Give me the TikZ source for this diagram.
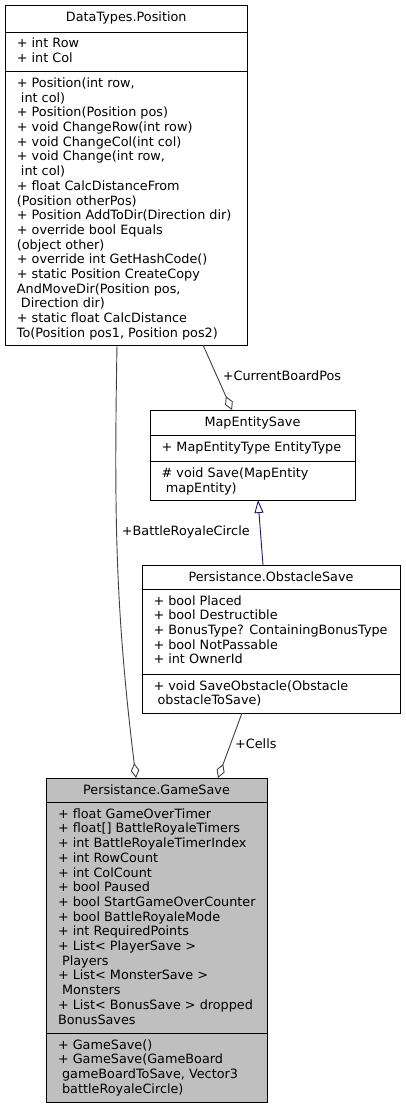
\documentclass[tikz,border=0pt]{standalone}
\usepackage{fontspec}
\setmainfont{DejaVu Sans}
\usetikzlibrary{%
        arrows.meta
    }
\definecolor{edgegray}{RGB}{64, 64, 64}
\definecolor{navy}{RGB}{25, 25, 112}
\definecolor{focusgray}{RGB}{191, 191, 191}
\newcommand{\umlfont}{\fontsize{12.8}{14.7}\selectfont}
\newcommand{\indsp}{\hspace*{0.32em}}
\tikzset{%
    classbox/.style={%
        draw=black, line width=0.9pt, anchor=north west,
        inner sep=0pt, outer sep=0pt
    },
    sepline/.style={draw=black, line width=0.9pt},
    classtitle/.style={anchor=base, inner sep=0pt, font=\umlfont},
    members/.style={%
        anchor=north west, inner sep=0pt, align=left, font=\umlfont
    },
    role/.style={anchor=base west, inner sep=0pt, font=\umlfont},
    aggregation/.style={%
        edgegray, line width=0.9pt,
        -{Diamond[open, length=15pt, width=8.5pt]}
    },
    inherit/.style={%
        navy, line width=0.9pt,
        -{Triangle[open, length=13pt, width=9pt]}
    }
}

\begin{document}
\begin{tikzpicture}[x=1pt, y=-1pt]

    \useasboundingbox (0, 0) rectangle (406, 1109);

    % DataTypes.Position
    \node[classbox, minimum width=241.5, minimum height=339.5] (position) at (5.5, 5.5) {};
    \node[classtitle] (position-title) at ([yshift=-16]position.north) {DataTypes.Position};
    \draw[sepline] ([yshift=-26.5]position.north west) -- ([yshift=-26.5]position.north east);
    \draw[sepline] ([yshift=-65.5]position.north west) -- ([yshift=-65.5]position.north east);
    \node[members] (position-attrs) at ([xshift=11.2, yshift=-31.6]position.north west)
        {\strut + int Row\\+ int Col};
    \node[members] (position-ops) at ([xshift=11.2, yshift=-71.5]position.north west)
        {\strut + Position(int row,\\
         \indsp int col)\\
         + Position(Position pos)\\
         + void ChangeRow(int row)\\
         + void ChangeCol(int col)\\
         + void Change(int row,\\
         \indsp int col)\\
         + float CalcDistanceFrom\\
         (Position otherPos)\\
         + Position AddToDir(Direction dir)\\
         + override bool Equals\\
         (object other)\\
         + override int GetHashCode()\\
         + static Position CreateCopy\\
         AndMoveDir(Position pos,\\
         \indsp Direction dir)\\
         + static float CalcDistance\\
         To(Position pos1, Position pos2)};

    % MapEntitySave
    \node[classbox, minimum width=205, minimum height=90] (mapentity) at (150, 410) {};
    \node[classtitle] (mapentity-title) at ([yshift=-16.3]mapentity.north) {MapEntitySave};
    \draw[sepline] ([yshift=-25]mapentity.north west) -- ([yshift=-25]mapentity.north east);
    \draw[sepline] ([yshift=-51]mapentity.north west) -- ([yshift=-51]mapentity.north east);
    \node[members] (mapentity-attrs) at ([xshift=11.5, yshift=-31.2]mapentity.north west)
        {\strut + MapEntityType EntityType};
    \node[members] (mapentity-ops) at ([xshift=11.5, yshift=-57.3]mapentity.north west)
        {\strut \# void Save(MapEntity\\
         \indsp mapEntity)};

    % Persistance.ObstacleSave
    \node[classbox, minimum width=258, minimum height=148] (obstacle) at (142, 565) {};
    \node[classtitle] (obstacle-title) at ([yshift=-16.3]obstacle.north) {Persistance.ObstacleSave};
    \draw[sepline] ([yshift=-24]obstacle.north west) -- ([yshift=-24]obstacle.north east);
    \draw[sepline] ([yshift=-109]obstacle.north west) -- ([yshift=-109]obstacle.north east);
    \node[members] (obstacle-attrs) at ([xshift=11.3, yshift=-29.7]obstacle.north west)
        {\strut + bool Placed\\
         + bool Destructible\\
         + BonusType? ContainingBonusType\\
         + bool NotPassable\\
         + int OwnerId};
    \node[members] (obstacle-ops) at ([xshift=11.3, yshift=-114.7]obstacle.north west)
        {\strut + void SaveObstacle(Obstacle\\
         \indsp obstacleToSave)};

    % Persistance.GameSave
    \node[classbox, fill=focusgray, minimum width=221, minimum height=324] (gamesave) at (46, 778) {};
    \node[classtitle] (gamesave-title) at ([yshift=-16]gamesave.north) {Persistance.GameSave};
    \draw[sepline] ([yshift=-24]gamesave.north west) -- ([yshift=-24]gamesave.north east);
    \draw[sepline] ([yshift=-255]gamesave.north west) -- ([yshift=-255]gamesave.north east);
    \node[members] (gamesave-attrs) at ([xshift=11.8, yshift=-29.7]gamesave.north west)
        {\strut + float GameOverTimer\\
         + float[] BattleRoyaleTimers\\
         + int BattleRoyaleTimerIndex\\
         + int RowCount\\
         + int ColCount\\
         + bool Paused\\
         + bool StartGameOverCounter\\
         + bool BattleRoyaleMode\\
         + int RequiredPoints\\
         + List< PlayerSave >\\
         \indsp Players\\
         + List< MonsterSave >\\
         \indsp Monsters\\
         + List< BonusSave > dropped\\
         BonusSaves};
    \node[members] (gamesave-ops) at ([xshift=11.8, yshift=-260.7]gamesave.north west)
        {\strut + GameSave()\\
         + GameSave(GameBoard\\
         \indsp gameBoardToSave, Vector3\\
         \indsp battleRoyaleCircle)};

    % Connectors
    \draw[aggregation]
        ([xshift=111.5]position.south west)
        to [out=-91, in=97]
        ([xshift=90]gamesave.north west);
    \node[role] (battle-role) at (121.7, 535) {+BattleRoyaleCircle};

    \draw[aggregation]
        ([xshift=197.5]position.south west)
        -- ([xshift=82]mapentity.north west);
    \node[role] (board-role) at (222.7, 380.7) {+CurrentBoardPos};

    \draw[inherit]
        ([xshift=121]obstacle.north west)
        -- ([xshift=108]mapentity.south west);

    \draw[aggregation]
        ([xshift=100]obstacle.south west)
        -- ([xshift=172]gamesave.north west);
    \node[role] (cells-role) at (235, 748) {+Cells};

\end{tikzpicture}
\end{document}
